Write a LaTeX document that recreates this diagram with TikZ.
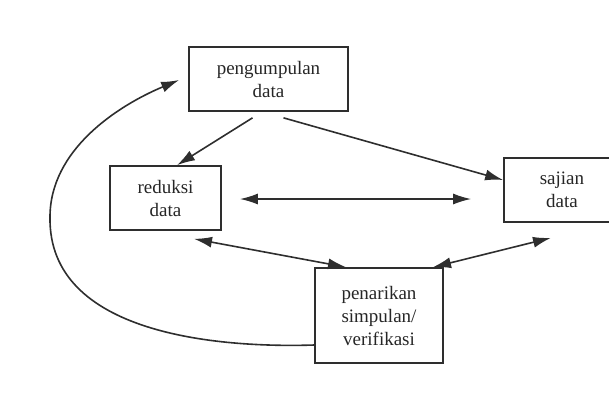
\documentclass[tikz,border=0pt]{standalone}
\usepackage{fontspec}
\setmainfont{Liberation Serif}
\usetikzlibrary{arrows.meta,calc}
\definecolor{linegray}{HTML}{2E2E2E}
\begin{document}
\begin{tikzpicture}[x=1pt,y=-1pt,
	kotak/.style={draw=linegray,line width=1.7pt,align=center,inner sep=0pt,
		text=black!85,font=\fontsize{19}{23}\selectfont},
	panah/.style={draw=linegray,line width=1.6pt,-{Latex[length=18pt,width=11pt]}},
	panahdua/.style={draw=linegray,line width=1.6pt,{Latex[length=18pt,width=11pt]}-{Latex[length=18pt,width=11pt]}}]
			\useasboundingbox (0,0) rectangle (609,400);
			\clip (0,0) rectangle (609,400);
			\node[kotak,minimum width=159pt,minimum height=64pt] (peng) at (268.5,79) {pengumpulan\\data};
			\node[kotak,minimum width=111pt,minimum height=64pt] (red) at (165.5,198) {reduksi\\data};
			\node[kotak,minimum width=116pt,minimum height=64pt] (saj) at (562,190) {sajian\\data};
			\node[kotak,minimum width=128pt,minimum height=95pt] (pen) at (379,315.5) {penarikan\\simpulan/\\verifikasi};
			\draw[panah] ($(peng.south)+(-16,6)$)--($(red.north)+(11.5,0)$);
			\draw[panah] ($(peng.south)+(15,6)$)--($(saj.west)+(0,-10)$);
			\draw[panahdua] ($(red.east)+(18,1)$)--($(saj.west)+(-32,9)$);
			\draw[panahdua] ($(red.south)+(28.5,8)$)--($(pen.north)+(-33,0)$);
			\draw[panahdua] ($(saj.south)+(-11,15)$)--($(pen.north)+(54,0)$);
			\draw[panah] ($(pen.west)+(0,29.5)$)..controls (220,348) and (48,335)..(50,217)
				..controls (50,150) and (117,106)..($(peng.west)+(-9,1)$);
	\end{tikzpicture}
\end{document}
